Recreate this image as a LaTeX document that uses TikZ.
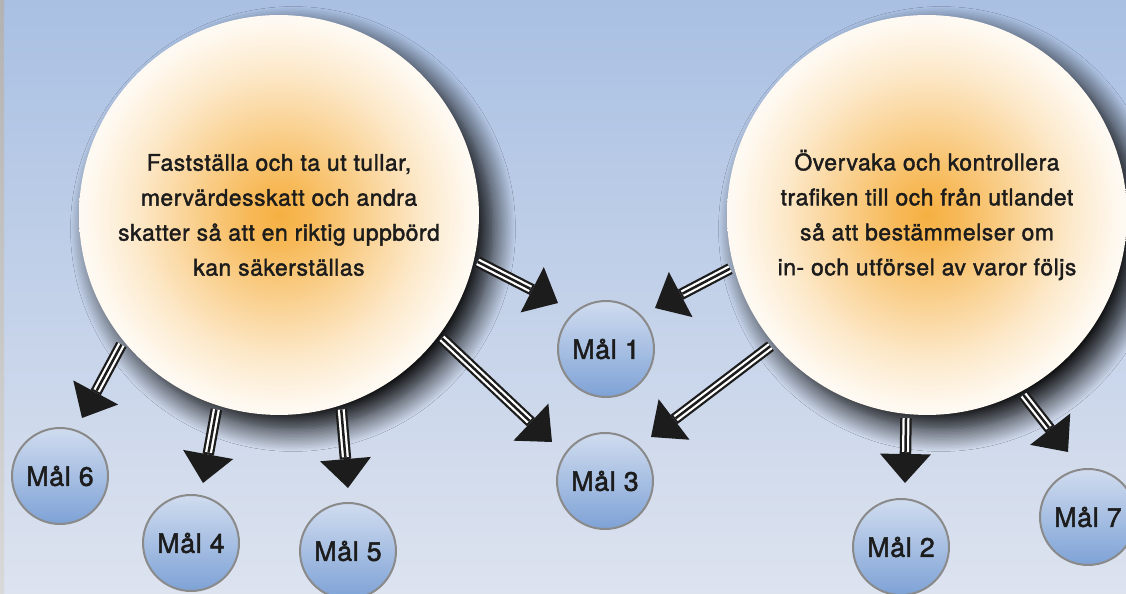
\documentclass[tikz,border=0pt]{standalone}
\usepackage{fontspec}
\setmainfont{TeX Gyre Heros}
\newfontfamily\medfont[FakeBold=1.8,LetterSpace=2.5]{TeX Gyre Heros}
\usetikzlibrary{arrows.meta,shadows.blur}

\definecolor{bgtop}{HTML}{A9C0E3}
\definecolor{bgbot}{HTML}{DDE3EF}
\definecolor{glow}{HTML}{F6B042}
\definecolor{goaltop}{HTML}{D0DCEF}
\definecolor{goalbot}{HTML}{7EA2D6}
\definecolor{goalrim}{HTML}{8A8A8A}
\definecolor{ink}{HTML}{1C1C1C}

\pgfdeclareradialshading{sunglow}{\pgfpoint{0bp}{0bp}}{color(0bp)=(glow); color(4bp)=(glow!88!white); color(11bp)=(glow!58!white); color(18bp)=(glow!28!white); color(24bp)=(glow!8!white); color(29bp)=(white); color(50bp)=(white)}

\newcommand\goalarrow[2]{%
  \draw[ink, line width=0.23cm, shorten <=0.08cm, -{Triangle[length=0.58cm,width=1.02cm,line width=0pt]}] (#1) -- (#2);
  \draw[white, line width=0.14cm, shorten <=0.08cm, shorten >=0.62cm] (#1) -- (#2);
  \draw[ink, line width=0.05cm, shorten <=0.08cm, shorten >=0.62cm] (#1) -- (#2);}

\tikzset{
  aimcircle/.style={circle, minimum size=8cm, shade, shading=sunglow, align=center,
    text=ink, font=\medfont\fontsize{13}{19.9}\selectfont,
    blur shadow={shadow xshift=0.28cm, shadow yshift=-0.28cm, shadow blur radius=0.45cm, shadow blur steps=16, shadow opacity=100}},
  goal/.style={circle, minimum size=1.92cm, top color=goaltop, bottom color=goalbot,
    draw=goalrim, line width=0.04cm, text=ink, font=\medfont\fontsize{15.2}{16}\selectfont},
}

\begin{document}
\begin{tikzpicture}[x=0.02cm, y=-0.02cm]
  \useasboundingbox (0,0) rectangle (1126,594);
  \clip (0,0) rectangle (1126,594);
  \shade[top color=bgtop, bottom color=bgbot] (0,0) rectangle (1126,594);
  \shade[top color=black!30, bottom color=black!15] (0,0) rectangle (4,594);

  \node[aimcircle] (L) at (279,215) {Fastställa och ta ut tullar,\\mervärdesskatt och andra\\skatter så att en riktig uppbörd\\kan säkerställas};
  \node[aimcircle] (R) at (927,215) {Övervaka och kontrollera\\trafiken till och från utlandet\\så att bestämmelser om\\in- och utförsel av varor följs};

  \node[goal] (m1) at (606,349) {Mål 1};
  \node[goal] (m2) at (901,547) {Mål 2};
  \node[goal] (m3) at (605,481) {Mål 3};
  \node[goal] (m4) at (191,543) {Mål 4};
  \node[goal] (m5) at (348,551) {Mål 5};
  \node[goal] (m6) at (60,476) {Mål 6};
  \node[goal] (m7) at (1088,517) {Mål 7};

  \coordinate (t1) at (558,303);
  \coordinate (t2) at (552,442);
  \coordinate (t3) at (82,418);
  \coordinate (t4) at (203,483);
  \coordinate (t5) at (348,488);
  \coordinate (t6) at (655,308);
  \coordinate (t7) at (651,437);
  \coordinate (t8) at (905,483);
  \coordinate (t9) at (1068,452);

  \foreach \s/\t in {L.-13/t1, L.-37/t2, L.-141/t3, L.-108/t4, L.-72/t5, R.-165/t6, R.-140/t7, R.-96/t8, R.-62/t9}
    \goalarrow{\s}{\t};
\end{tikzpicture}
\end{document}
